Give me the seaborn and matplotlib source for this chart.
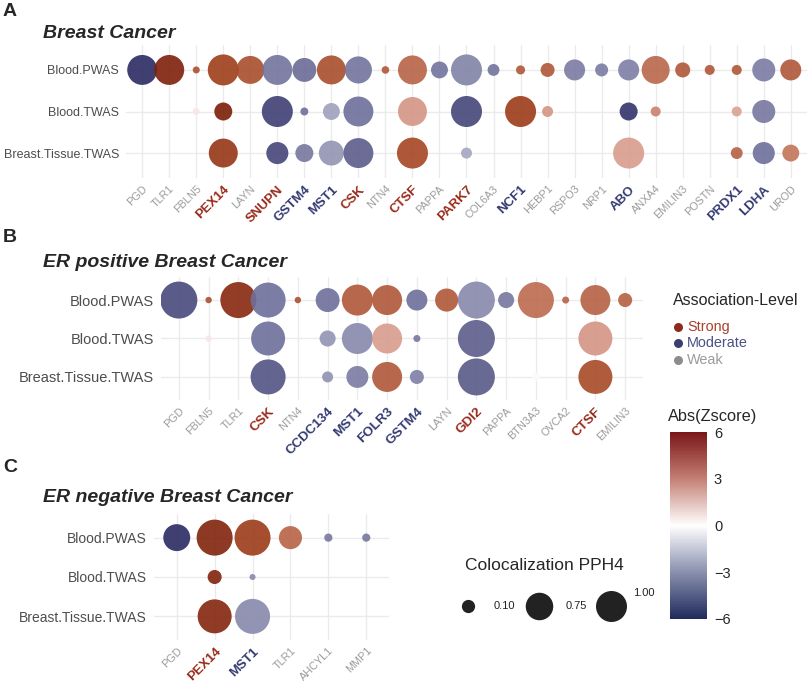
import numpy as np
import pandas as pd
import seaborn as sns
import matplotlib.pyplot as plt
from matplotlib.colors import LinearSegmentedColormap, Normalize
from matplotlib.cm import ScalarMappable

nan = np.nan
rows = ['Blood.PWAS', 'Blood.TWAS', 'Breast.Tissue.TWAS']

# Panel A: Breast Cancer
a_genes = ['PGD', 'TLR1', 'FBLN5', 'PEX14', 'LAYN', 'SNUPN', 'GSTM4', 'MST1', 'CSK',
           'NTN4', 'CTSF', 'PAPPA', 'PARK7', 'COL6A3', 'NCF1', 'HEBP1', 'RSPO3', 'NRP1',
           'ABO', 'ANXA4', 'EMILIN3', 'POSTN', 'PRDX1', 'LDHA', 'UROD']
a_strong = ['PEX14', 'SNUPN', 'CSK', 'CTSF', 'PARK7']
a_moderate = ['GSTM4', 'MST1', 'NCF1', 'ABO', 'PRDX1', 'LDHA']
a_pwas_z = [-5.0, 5.6, 4.0, 4.5, 4.1, -2.7, -2.9, 4.1, -2.7, 3.8, 3.5, -2.7, -2.3,
            -2.7, 3.8, 3.8, -2.5, -2.5, -2.4, 3.4, 3.8, 3.8, 3.8, -2.5, 3.8]
a_pwas_pp = [0.92, 0.92, 0.006, 1.0, 0.78, 0.92, 0.53, 0.85, 0.72, 0.01, 0.85, 0.21, 1.0,
             0.07, 0.025, 0.12, 0.38, 0.095, 0.38, 0.78, 0.15, 0.037, 0.037, 0.48, 0.38]
a_twas_z = [nan, nan, 0.4, 5.7, nan, -4.2, -2.8, -1.6, -2.8, nan, 2.0, nan, -4.0,
            nan, 4.6, 2.0, nan, nan, -4.6, 2.6, nan, nan, 1.6, -2.6, nan]
a_twas_pp = [nan, nan, 0.006, 0.25, nan, 1.0, 0.013, 0.21, 0.92, nan, 0.85, nan, 1.0,
             nan, 1.0, 0.053, nan, nan, 0.25, 0.037, nan, nan, 0.037, 0.48, nan]
a_tis_z = [nan, nan, nan, 4.8, nan, -4.0, -2.6, -1.9, -3.3, nan, 4.3, nan, -1.5,
           nan, nan, nan, nan, nan, 1.8, nan, nan, nan, 3.6, -2.8, 3.0]
a_tis_pp = [nan, nan, nan, 0.85, nan, 0.43, 0.25, 0.59, 0.92, nan, 1.0, nan, 0.053,
            nan, nan, nan, nan, nan, 1.0, nan, nan, nan, 0.07, 0.43, 0.21]

# Panel B: ER positive Breast Cancer
b_genes = ['PGD', 'FBLN5', 'TLR1', 'CSK', 'NTN4', 'CCDC134', 'MST1', 'FOLR3', 'GSTM4',
           'LAYN', 'GDI2', 'PAPPA', 'BTN3A3', 'OVCA2', 'CTSF', 'EMILIN3']
b_strong = ['CSK', 'GDI2', 'CTSF']
b_moderate = ['CCDC134', 'MST1', 'FOLR3', 'GSTM4']
b_pwas_z = [-3.9, 4.0, 5.3, -2.8, 4.0, -2.8, 3.8, 3.8, -2.8, 3.8, -2.2, -2.6, 3.3, 3.5, 3.6, 3.6]
b_pwas_pp = [1.0, 0.002, 0.94, 0.88, 0.002, 0.35, 0.66, 0.61, 0.25, 0.32, 1.0, 0.12, 0.94,
             0.004, 0.61, 0.08]
b_twas_z = [nan, 0.4, nan, -2.8, nan, -1.9, -2.2, 1.8, -2.6, nan, -3.3, nan, nan, nan, 2.0, nan]
b_twas_pp = [nan, 0.002, nan, 0.82, nan, 0.12, 0.66, 0.61, 0.004, nan, 1.0, nan, nan, nan, 0.82, nan]
b_tis_z = [nan, nan, nan, -3.6, nan, -2.0, -2.5, 3.8, -2.4, nan, -3.4, nan, 0.05, nan, 4.2, nan]
b_tis_pp = [nan, nan, nan, 0.88, nan, 0.035, 0.28, 0.61, 0.08, nan, 1.0, nan, 0.01, nan, 0.82, nan]

# Panel C: ER negative Breast Cancer
c_genes = ['PGD', 'PEX14', 'MST1', 'TLR1', 'AHCYL1', 'MMP1']
c_strong = ['PEX14']
c_moderate = ['MST1']
c_pwas_z = [-5.0, 5.5, 4.6, 3.5, -2.6, -2.6]
c_pwas_pp = [0.47, 0.94, 0.94, 0.32, 0.01, 0.01]
c_twas_z = [nan, 5.5, -2.2, nan, nan, nan]
c_twas_pp = [nan, 0.08, 0.001, nan, nan, nan]
c_tis_z = [nan, 5.4, -2.2, nan, nan, nan]
c_tis_pp = [nan, 0.82, 0.88, nan, nan, nan]

RED, BLUE, GREY = '#9A2A1B', '#343A72', '#9B9B9B'
# point colours (purple-navy -> white -> brown-red), colourbar gradient
pt_stops = [(-6, '#141450'), (-4.5, '#36366D'), (-3, '#666794'), (-1.5, '#A3A6BF'),
            (0, '#FFFFFF'), (1.5, '#DCA598'), (3, '#C3765C'), (4.5, '#A03F1B'),
            (6, '#731605')]
pt_cmap = LinearSegmentedColormap.from_list('pts', [((z + 6) / 12, c) for z, c in pt_stops])
bar_cmap = LinearSegmentedColormap.from_list(
    'bar', [(0, '#1F2B5C'), (0.25, '#8A90AE'), (0.5, '#FFFFFF'), (0.75, '#C47F74'),
            (1, '#7A1618')])

sns.set_theme(style='white')
plt.rcParams['font.family'] = ['Liberation Sans', 'DejaVu Sans']

W, H = 809, 685
fig = plt.figure(figsize=(W / 100, H / 100), dpi=100)


def px_axes(l, t, r, b):
    return fig.add_axes([l / W, 1 - b / H, (r - l) / W, (b - t) / H])


def build(genes, zs, pps):
    recs = []
    for yi, (z, pp) in enumerate(zip(zs, pps)):
        for xi, g in enumerate(genes):
            if not np.isnan(z[xi]):
                recs.append(dict(gene=g, row=rows[yi], xi=xi, yi=yi, z=z[xi], pp=pp[xi]))
    return pd.DataFrame(recs)


def panel(ax, genes, zs, pps, strong, moderate, dmin, dmax, ysize, fs_bold, fs_weak):
    df = build(genes, zs, pps)
    # point diameter (px) grows with sqrt(PPH4), like ggplot's area scale
    df['area'] = ((dmin + (dmax - dmin) * np.sqrt(df['pp'])) * 0.72) ** 2
    lo, hi = df['area'].min(), df['area'].max()
    sns.scatterplot(data=df, x='xi', y='yi', hue='z', palette=pt_cmap, hue_norm=(-6, 6),
                    size='area', sizes=(lo, hi), size_norm=(lo, hi), alpha=0.9,
                    linewidth=0, legend=False, ax=ax, zorder=3)
    n = len(genes)
    ax.set_xlim(-0.6, n - 0.4)
    ax.set_ylim(2.6, -0.6)
    ax.set_xticks(range(n))
    ax.set_yticks(range(3))
    ax.set_yticklabels(rows, color='#4D4D4D', fontsize=ysize)
    ax.set_xticklabels(genes, rotation=45, ha='right', va='top', rotation_mode='anchor')
    for lab, g in zip(ax.get_xticklabels(), genes):
        if g in strong:
            lab.set_color(RED); lab.set_fontweight('bold'); lab.set_fontsize(fs_bold)
        elif g in moderate:
            lab.set_color(BLUE); lab.set_fontweight('bold'); lab.set_fontsize(fs_bold)
        else:
            lab.set_color(GREY); lab.set_fontsize(fs_weak)
    ax.grid(True, color='#EBEBEB', lw=1.0)
    ax.set_axisbelow(True)
    for s in ax.spines.values():
        s.set_visible(False)
    ax.tick_params(axis='y', length=0, pad=5)
    ax.tick_params(axis='x', length=0, pad=4)
    ax.set_xlabel('')
    ax.set_ylabel('')


axA = px_axes(126, 45, 807, 178)
panel(axA, a_genes, [a_pwas_z, a_twas_z, a_tis_z], [a_pwas_pp, a_twas_pp, a_tis_pp],
      a_strong, a_moderate, 5, 31, 9, 9.5, 7.8)
axB = px_axes(161, 277, 643, 400)
panel(axB, b_genes, [b_pwas_z, b_twas_z, b_tis_z], [b_pwas_pp, b_twas_pp, b_tis_pp],
      b_strong, b_moderate, 5, 37, 10.5, 9.7, 7.8)
axC = px_axes(154, 514, 389, 640)
panel(axC, c_genes, [c_pwas_z, c_twas_z, c_tis_z], [c_pwas_pp, c_twas_pp, c_tis_pp],
      c_strong, c_moderate, 5, 37, 10, 9.5, 7.8)

# panel letters and titles
for letter, yl, title, yt in [('A', 12, 'Breast Cancer', 33),
                              ('B', 238, 'ER positive Breast Cancer', 262),
                              ('C', 467, 'ER negative Breast Cancer', 497)]:
    fig.text(3 / W, 1 - yl / H, letter, fontsize=14, fontweight='bold', va='center', ha='left')
    fig.text(43 / W, 1 - yt / H, title, fontsize=14, fontweight='bold', fontstyle='italic',
             va='center', ha='left')

# legends drawn on an overlay in pixel coordinates
lax = fig.add_axes([0, 0, 1, 1], zorder=5)
lax.set_xlim(0, W)
lax.set_ylim(H, 0)
lax.axis('off')

lax.text(673, 300, 'Association-Level', fontsize=11.5, va='center', ha='left')
for lvl, col, dot, yy in [('Strong', '#A8402B', '#8E2A1C', 327),
                          ('Moderate', '#4A5185', '#3A3F72', 343),
                          ('Weak', '#9B9B9B', '#8C8C8C', 360)]:
    lax.scatter([678], [yy], s=42, color=dot, linewidth=0)
    lax.text(687, yy, lvl, color=col, fontsize=10.4, va='center', ha='left')

lax.text(465, 566, 'Colocalization PPH4', fontsize=12.5, va='center', ha='left')
for p, cx, tx, ty in [(0.10, 468, 494, 606), (0.75, 539, 566, 606), (1.00, 611, 633, 593)]:
    d = 5 + 26 * np.sqrt(p)
    lax.scatter([cx], [606], s=(d * 0.72) ** 2, color='#222222', linewidth=0)
    lax.text(tx, ty, f'{p:.2f}', fontsize=8, va='center', ha='left', color='#222222')

cax = px_axes(670, 432, 707, 619)
cb = fig.colorbar(ScalarMappable(norm=Normalize(-6, 6), cmap=bar_cmap), cax=cax,
                  ticks=[-6, -3, 0, 3, 6])
cb.outline.set_visible(False)
cax.tick_params(length=5, width=1, color='white', direction='in', left=True, right=True,
                labelsize=10.5, pad=5)
fig.text(668 / W, 1 - 416 / H, 'Abs(Zscore)', fontsize=11.8, va='center', ha='left')

fig.savefig('out.png', dpi=100)
